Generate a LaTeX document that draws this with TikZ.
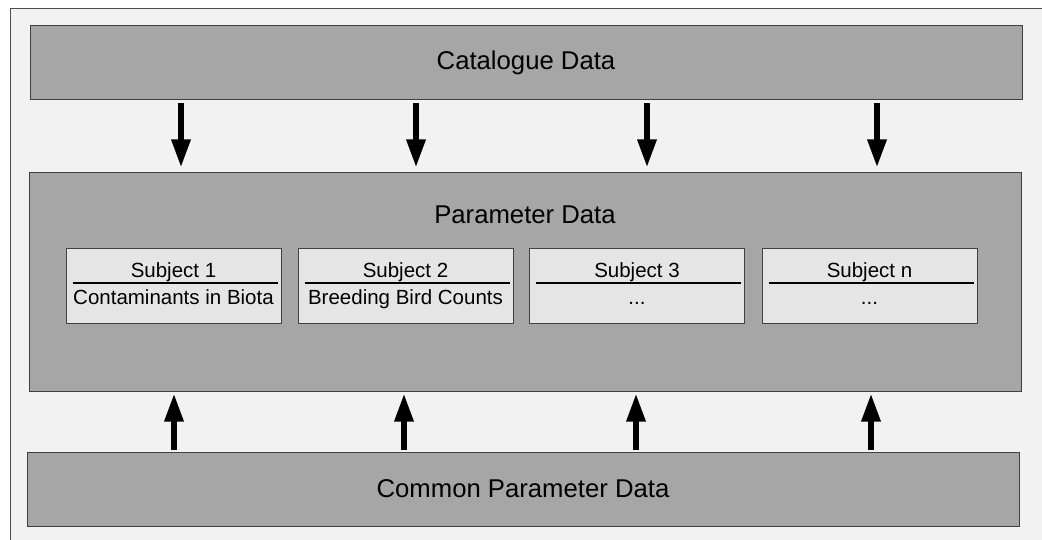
\documentclass[tikz,border=0pt]{standalone}
\usepackage{fontspec}
\setmainfont{Liberation Sans}
\usetikzlibrary{arrows.meta}

\begin{document}
\begin{tikzpicture}[x=1pt, y=-1pt,
    layer/.style={draw=black!75, line width=1pt, fill=black!35, minimum width=992pt, inner sep=0pt},
    subject/.style={draw=black!75, line width=1pt, fill=black!10, minimum width=215pt, minimum height=74pt, inner sep=0pt},
    big/.style={font=\fontsize{25.7}{30}\selectfont, anchor=base, inner sep=0pt},
    small/.style={font=\fontsize{20.5}{24}\selectfont, anchor=base, inner sep=0pt},
    flow/.style={line width=6pt, -{Triangle[width=18pt,length=28pt]}}]

    \useasboundingbox (0,0) rectangle (1042,540);
    \clip (0,0) rectangle (1042,540);
    \fill[white] (0,0) rectangle (1042,540);
    \draw[black!70, line width=1pt, fill=black!5] (10,9) rectangle (1070,570);

    \node[layer, minimum height=74pt] (cat) at (526,63) {};
    \node[big] (catlabel) at (526,70) {Catalogue Data};

    \node[layer, minimum height=218pt] (par) at (525,282) {};
    \node[big] (parlabel) at (525,224) {Parameter Data};

    \node[layer, minimum height=74pt] (com) at (523,489) {};
    \node[big] (comlabel) at (523,497) {Common Parameter Data};

    \foreach \i/\x/\sname/\stext in {1/173.5/Subject 1/Contaminants in Biota,
                                     2/405.5/Subject 2/Breeding Bird Counts,
                                     3/637/Subject 3/{.{}.{}.},
                                     n/869.5/Subject n/{.{}.{}.}} {
        \node[subject] (s\i) at (\x,286) {};
        \node[small] (s\i name) at ([yshift=9pt]s\i.center) {\sname};
        \node[small] (s\i text) at ([yshift=-19pt]s\i.center) {\stext};
        \draw[line width=2pt] ([xshift=7pt,yshift=3pt]s\i.west) -- ([xshift=-4pt,yshift=3pt]s\i.east);
    }

    \foreach \x in {181,416,647,877}
        \draw[flow, shorten <=3pt, shorten >=5pt] (\x,0 |- cat.south) -- (\x,0 |- par.north);

    \foreach \x in {174,404,636,871}
        \draw[flow, shorten <=2pt, shorten >=2pt] (\x,0 |- com.north) -- (\x,0 |- par.south);

\end{tikzpicture}
\end{document}
